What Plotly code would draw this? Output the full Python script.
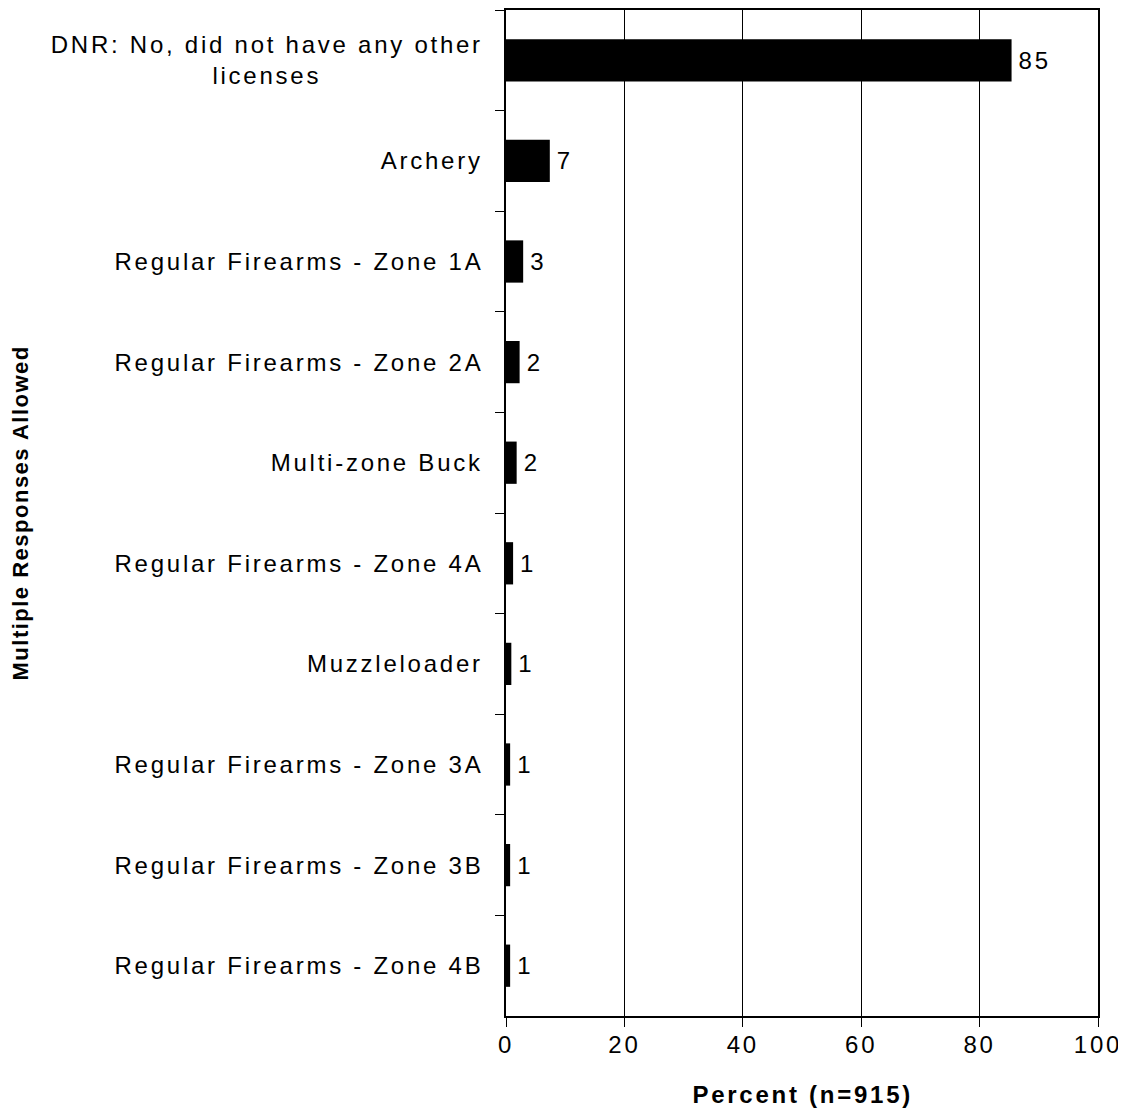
import plotly.graph_objects as go

# ---- data ----
categories = [
    "DNR: No, did not have any other<br>licenses",
    "Archery",
    "Regular Firearms - Zone 1A",
    "Regular Firearms - Zone 2A",
    "Multi-zone Buck",
    "Regular Firearms - Zone 4A",
    "Muzzleloader",
    "Regular Firearms - Zone 3A",
    "Regular Firearms - Zone 3B",
    "Regular Firearms - Zone 4B",
]
percent = [85.4, 7.4, 2.9, 2.3, 1.8, 1.2, 0.9, 0.7, 0.7, 0.7]
x_ticks = [0, 20, 40, 60, 80, 100]
x_title = "Percent (n=915)"
y_title = "Multiple Responses Allowed"

FONT = "Liberation Sans, Arial, Helvetica, sans-serif"
FS = 24
LS = 2.75

fig = go.Figure(
    go.Bar(
        x=percent,
        y=categories,
        orientation="h",
        width=0.42,
        marker=dict(color="black", line=dict(width=0)),
        text=[f"{v:.0f}" for v in percent],
        textposition="outside",
        constraintext="none",
        textfont=dict(size=FS, color="black", family=FONT),
        cliponaxis=False,
        hoverinfo="skip",
    )
)

annotations = []
for cat in categories:
    annotations.append(dict(
        x=0, xref="paper", y=cat, yref="y",
        xanchor="right", yanchor="middle", xshift=-21,
        align="center", showarrow=False, text=cat,
        font=dict(size=FS, color="black", family=FONT),
    ))
annotations.append(dict(
    x=0, xref="paper", y=0.5, yref="paper", xshift=-486,
    xanchor="center", yanchor="middle", textangle=-90,
    showarrow=False, text="<b>" + y_title + "</b>",
    font=dict(size=22, color="black", family=FONT),
))
annotations.append(dict(
    x=0.5, xref="paper", y=0, yref="paper", yshift=-63,
    xanchor="center", yanchor="top",
    showarrow=False, text="<b>" + x_title + "</b>",
    font=dict(size=FS, color="black", family=FONT),
))

fig.update_layout(
    width=1118, height=1101,
    margin=dict(l=498, r=28, t=0, b=93),
    paper_bgcolor="white", plot_bgcolor="white",
    font=dict(family=FONT, size=FS, color="black"),
    showlegend=False,
    annotations=annotations,
    xaxis=dict(
        range=[0, 100], tickvals=x_ticks, ticks="outside", ticklen=9,
        tickwidth=1, tickcolor="black", ticklabelstandoff=-3,
        showgrid=True, gridcolor="black", gridwidth=1,
        showline=True, linecolor="black", linewidth=2, mirror=True,
        zeroline=False, tickfont=dict(size=FS, color="black", family=FONT),
        fixedrange=True,
    ),
    yaxis=dict(
        type="category", autorange="reversed",
        tickson="boundaries", ticks="outside", ticklen=9, tickwidth=1,
        tickcolor="black", showticklabels=False, showgrid=False,
        showline=True, linecolor="black", linewidth=2, mirror=True,
        zeroline=False, fixedrange=True,
    ),
)

post = """
var gd = document.getElementById('{plot_id}');
function spaceText(el, px, mode, extra){
  if(!el || el.getAttribute('data-ls')) return;
  var b0 = el.getBBox();
  el.style.letterSpacing = px + 'px';
  var b1 = el.getBBox();
  var dx;
  if(mode === 'right') dx = (b0.x + b0.width) - (b1.x + b1.width);
  else if(mode === 'left') dx = b0.x - b1.x;
  else dx = (b0.x + b0.width / 2) - (b1.x + b1.width / 2);
  dx += (extra || 0);
  var tr = el.getAttribute('transform') || '';
  el.setAttribute('transform', (tr + ' translate(' + dx + ',0)').trim());
  el.setAttribute('data-ls', '1');
}
function applySpacing(){
  gd.querySelectorAll('.xtick text').forEach(function(t){ spaceText(t, __LS__, 'center', 0); });
  gd.querySelectorAll('text.bartext').forEach(function(t){ spaceText(t, __LS__, 'left', 4); });
  gd.querySelectorAll('.annotation').forEach(function(a){
    var idx = +a.getAttribute('data-index');
    var t = a.querySelector('text.annotation-text');
    if(idx < __N__) spaceText(t, __LS__, 'right', 0);
    else if(idx === __N__) spaceText(t, 1.5, 'center', 0);
    else spaceText(t, __LS__, 'center', 0);
  });
}
applySpacing();
gd.on('plotly_afterplot', applySpacing);
""".replace("__N__", str(len(categories))).replace("__LS__", str(LS))

fig.write_html("out.html", post_script=post, config={"displayModeBar": False})
